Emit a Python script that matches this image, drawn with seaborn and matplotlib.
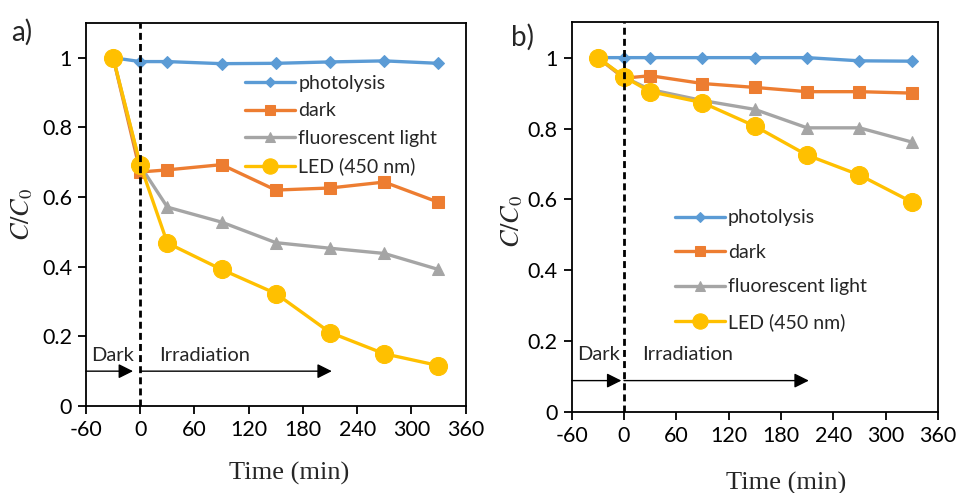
import matplotlib
matplotlib.use("Agg")
import matplotlib.pyplot as plt
import pandas as pd
import seaborn as sns

# Style
sns.set_style("ticks")
plt.rcParams["font.family"] = ["Lato", "DejaVu Sans"]
plt.rcParams["mathtext.fontset"] = "stix"

# Data (C/C0)
times = [-30, 0, 30, 90, 150, 210, 270, 330]
series_names = ["photolysis", "dark", "fluorescent light", "LED (450 nm)"]

a_photolysis = [1.0, 0.989, 0.989, 0.983, 0.984, 0.988, 0.991, 0.984]
a_dark = [1.0, 0.672, 0.678, 0.693, 0.620, 0.626, 0.643, 0.585]
a_fluor = [1.0, 0.69, 0.571, 0.528, 0.469, 0.453, 0.438, 0.392]
a_led = [1.0, 0.693, 0.468, 0.392, 0.323, 0.211, 0.150, 0.116]

b_photolysis = [1.0, 1.0, 1.0, 1.0, 1.0, 1.0, 0.991, 0.990]
b_dark = [1.0, 0.942, 0.949, 0.927, 0.916, 0.904, 0.904, 0.900]
b_fluor = [1.0, 0.945, 0.910, 0.879, 0.854, 0.802, 0.802, 0.762]
b_led = [1.0, 0.946, 0.904, 0.873, 0.807, 0.725, 0.669, 0.593]

x_ticks = [-60, 0, 60, 120, 180, 240, 300, 360]
y_ticks = [0, 0.2, 0.4, 0.6, 0.8, 1.0]
y_tick_labels = ["0", "0.2", "0.4", "0.6", "0.8", "1"]

colors = ["#5B9BD5", "#ED7D31", "#A5A5A5", "#FFC000"]
markers = ["D", "s", "^", "o"]
msizes = [6, 9, 8, 13]

fig = plt.figure(figsize=(9.56, 4.93), dpi=100)
ax_a = fig.add_axes([0.090, 0.1765, 0.397, 0.777])
ax_b = fig.add_axes([0.598, 0.164, 0.383, 0.791])


def draw_panel(ax, values, leg_anchor, leg_spacing, dark_end, arrow_y, text_y,
               xlab_pos, ylab_pos):
    for name, vals, c, m, ms in zip(series_names, values, colors, markers, msizes):
        df = pd.DataFrame({"t": times, "c": vals})
        sns.lineplot(data=df, x="t", y="c", ax=ax, color=c, marker=m,
                     markersize=ms, markeredgecolor=c, linewidth=2.4,
                     label=name)
    ax.axvline(0, color="black", ls="--", lw=2, dashes=(2.5, 1.5), zorder=5)

    # phase arrows
    arrow = dict(arrowstyle="-|>", color="black", lw=1, mutation_scale=22,
                 shrinkA=0, shrinkB=0)
    ax.annotate("", xy=(dark_end, arrow_y), xytext=(-60, arrow_y), arrowprops=arrow)
    ax.annotate("", xy=(212, arrow_y), xytext=(0, arrow_y), arrowprops=arrow)
    ax.text(-54, text_y, "Dark", fontsize=14.5, va="center", ha="left")
    ax.text(21, text_y, "Irradiation", fontsize=14.5, va="center", ha="left")

    ax.set_xlim(-60, 360)
    ax.set_ylim(0, 1.1)
    ax.set_xticks(x_ticks)
    ax.set_xticklabels([str(v) for v in x_ticks])
    ax.set_yticks(y_ticks)
    ax.set_yticklabels(y_tick_labels)
    ax.tick_params(direction="out", length=6, width=1.3, labelsize=15.5,
                   colors="black", pad=4)
    for s in ax.spines.values():
        s.set_visible(True)
        s.set_color("black")
        s.set_linewidth(1.3)

    ax.set_xlabel("Time (min)", family="Liberation Serif", fontsize=19)
    ax.set_ylabel(r"$C/C_0$", fontsize=19)
    ax.xaxis.set_label_coords(*xlab_pos)
    ax.yaxis.set_label_coords(*ylab_pos)

    ax.legend(loc="upper left", bbox_to_anchor=leg_anchor, frameon=False,
              fontsize=14, handlelength=2.6, handletextpad=0.15,
              labelspacing=leg_spacing, borderpad=0, borderaxespad=0,
              markerscale=0.85)


draw_panel(ax_a, [a_photolysis, a_dark, a_fluor, a_led], (0.418, 0.865), 0.55,
           -8, 0.1, 0.146, (0.534, -0.145), (-0.134, 0.50))
draw_panel(ax_b, [b_photolysis, b_dark, b_fluor, b_led], (0.281, 0.52), 0.9,
           -3, 0.089, 0.163, (0.587, -0.152), (-0.128, 0.49))

fig.text(0.012, 0.935, "a)", fontsize=20, va="center", ha="left")
fig.text(0.535, 0.925, "b)", fontsize=20, va="center", ha="left")

plt.savefig("out.png", dpi=100)
